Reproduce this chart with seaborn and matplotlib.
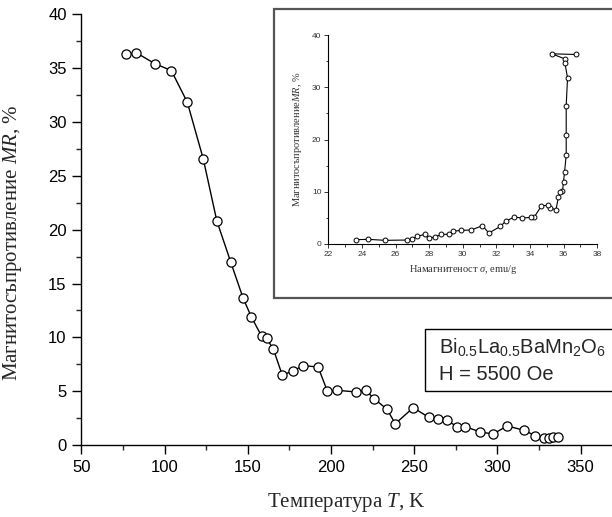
import matplotlib
matplotlib.use("Agg")
import matplotlib.pyplot as plt
from matplotlib.patches import Rectangle
from matplotlib.ticker import MultipleLocator
import seaborn as sns
import pandas as pd

# ---- data ----
temperature_K = [76.9, 82.9, 94.1, 104.1, 113.7, 123.3, 131.4, 139.8, 147.2, 152.2,
                 158.4, 161.4, 165.4, 170.8, 177.0, 183.5, 192.3, 197.9, 203.9, 214.9,
                 220.9, 226.0, 233.7, 238.7, 249.5, 258.8, 264.4, 269.6, 276.0, 280.8,
                 289.8, 297.4, 306.0, 316.0, 322.9, 328.1, 331.3, 333.7, 336.3]
mr_percent = [36.3, 36.46, 35.44, 34.79, 31.85, 26.58, 20.85, 17.0, 13.66, 11.9,
              10.1, 9.9, 8.92, 6.48, 6.88, 7.37, 7.25, 4.99, 5.08, 4.93,
              5.08, 4.3, 3.32, 1.98, 3.47, 2.57, 2.44, 2.29, 1.70, 1.70,
              1.21, 1.02, 1.77, 1.37, 0.86, 0.65, 0.62, 0.77, 0.74]

sigma_emu_g = [36.76, 35.3, 36.09, 36.07, 36.23, 36.15, 36.15, 36.15, 36.05, 35.99,
               35.93, 35.81, 35.69, 35.54, 35.21, 35.08, 34.68, 34.24, 34.08, 33.53,
               33.07, 32.54, 32.24, 31.55, 31.17, 30.49, 29.88, 29.42, 29.2, 28.73,
               28.35, 27.98, 27.74, 27.3, 26.96, 26.67, 25.38, 24.38, 23.67]
inset_mr = [36.27, 36.4, 35.4, 34.7, 31.8, 26.5, 20.84, 17.0, 13.7, 11.91,
            10.07, 9.94, 8.99, 6.56, 6.88, 7.4, 7.32, 5.1, 5.1, 4.97,
            5.16, 4.34, 3.38, 2.1, 3.5, 2.68, 2.61, 2.42, 1.85, 1.85,
            1.34, 1.09, 1.85, 1.47, 0.89, 0.76, 0.7, 0.89, 0.83]

main_xticks = [50, 100, 150, 200, 250, 300, 350]
main_yticks = [0, 5, 10, 15, 20, 25, 30, 35, 40]
inset_xticks = [22, 24, 26, 28, 30, 32, 34, 36, 38]
inset_yticks = [0, 10, 20, 30, 40]

main_df = pd.DataFrame({"T": temperature_K, "MR": mr_percent})
inset_df = pd.DataFrame({"sigma": sigma_emu_g, "MR": inset_mr})

# ---- style ----
sns.set_theme(style="ticks")
plt.rcParams["font.family"] = ["Liberation Sans", "DejaVu Sans"]
plt.rcParams["mathtext.fontset"] = "custom"
plt.rcParams["mathtext.rm"] = "Liberation Sans"
plt.rcParams["mathtext.it"] = "Liberation Serif:italic"
plt.rcParams["mathtext.bf"] = "Liberation Sans:bold"

W, H = 612, 517
fig = plt.figure(figsize=(W / 100, H / 100), dpi=100)

def fx(px):
    return px / W

def fy(py):
    return 1 - py / H

# main axes
ax = fig.add_axes([fx(81.3), fy(445), 1 - fx(81.3), fy(14.5) - fy(445)])
sns.lineplot(data=main_df, x="T", y="MR", ax=ax, sort=False, estimator=None,
             color="black", linewidth=1.0, marker="o", markersize=6.6,
             markerfacecolor="white", markeredgecolor="black", markeredgewidth=0.9)
ax.set_xlim(50, 50 + (W - 81.3) * 50 / 83.2)
ax.set_ylim(0, 40)
ax.set_xticks(main_xticks)
ax.set_yticks(main_yticks)
ax.xaxis.set_minor_locator(MultipleLocator(25))
ax.yaxis.set_minor_locator(MultipleLocator(2.5))
ax.tick_params(which="major", direction="out", length=6.5, width=1.0, labelsize=12,
               colors="black", pad=4)
ax.tick_params(which="minor", direction="out", length=3.5, width=1.0)
for s in ["top", "right"]:
    ax.spines[s].set_visible(False)
for s in ["left", "bottom"]:
    ax.spines[s].set_linewidth(1.0)
    ax.spines[s].set_color("black")
ax.set_xlabel("Температура $\\mathit{T}$, K", family="Liberation Serif", fontsize=15,
              labelpad=12)
ax.set_ylabel("Магнитосъпротивление $\\mathit{MR}$, %", family="Liberation Serif",
              fontsize=15, labelpad=12)
ax.yaxis.set_label_coords(-0.108, 0.47)

# legend-like box
fig.patches.append(Rectangle((fx(425), fy(391)), fx(W + 10) - fx(425), fy(329) - fy(391),
                             transform=fig.transFigure, facecolor="white",
                             edgecolor="black", linewidth=1.0, zorder=5))
fig.text(fx(439), fy(347), "Bi$_{0.5}$La$_{0.5}$BaMn$_2$O$_6$", fontsize=14.5,
         va="center", ha="left", zorder=6)
fig.text(fx(439), fy(375), "H = 5500 Oe", fontsize=14.5, va="center", ha="left", zorder=6)

# inset frame
fig.patches.append(Rectangle((fx(274), fy(297.5)), fx(W + 10) - fx(274), fy(9) - fy(297.5),
                             transform=fig.transFigure, facecolor="white",
                             edgecolor="#555555", linewidth=1.6, zorder=5))

# inset axes
iax = fig.add_axes([fx(328.3), fy(244), fx(597.3) - fx(328.3), fy(35) - fy(244)],
                   zorder=10)
iax.patch.set_alpha(0)
sns.lineplot(data=inset_df, x="sigma", y="MR", ax=iax, sort=False, estimator=None,
             color="black", linewidth=0.8, marker="o", markersize=3.5,
             markerfacecolor="white", markeredgecolor="black", markeredgewidth=0.7)
iax.set_xlim(22, 38)
iax.set_ylim(0, 40)
iax.set_xticks(inset_xticks)
iax.set_yticks(inset_yticks)
iax.xaxis.set_minor_locator(MultipleLocator(1))
iax.yaxis.set_minor_locator(MultipleLocator(5))
iax.tick_params(which="major", direction="out", length=3, width=0.7, labelsize=6,
                colors="#333333", pad=2)
iax.tick_params(which="minor", direction="out", length=1.8, width=0.7, colors="#333333")
for s in ["top", "right"]:
    iax.spines[s].set_visible(False)
for s in ["left", "bottom"]:
    iax.spines[s].set_linewidth(0.8)
    iax.spines[s].set_color("black")
iax.set_xlabel("Намагнитеност $\\mathit{\\sigma}$, emu/g", family="Liberation Serif",
               fontsize=7.5, color="#333333", labelpad=4)
iax.set_ylabel("Магнитосъпротивление$\\mathit{MR}$, %", family="Liberation Serif",
               fontsize=7.5, color="#333333", labelpad=6)

fig.savefig("out.png", dpi=100)
